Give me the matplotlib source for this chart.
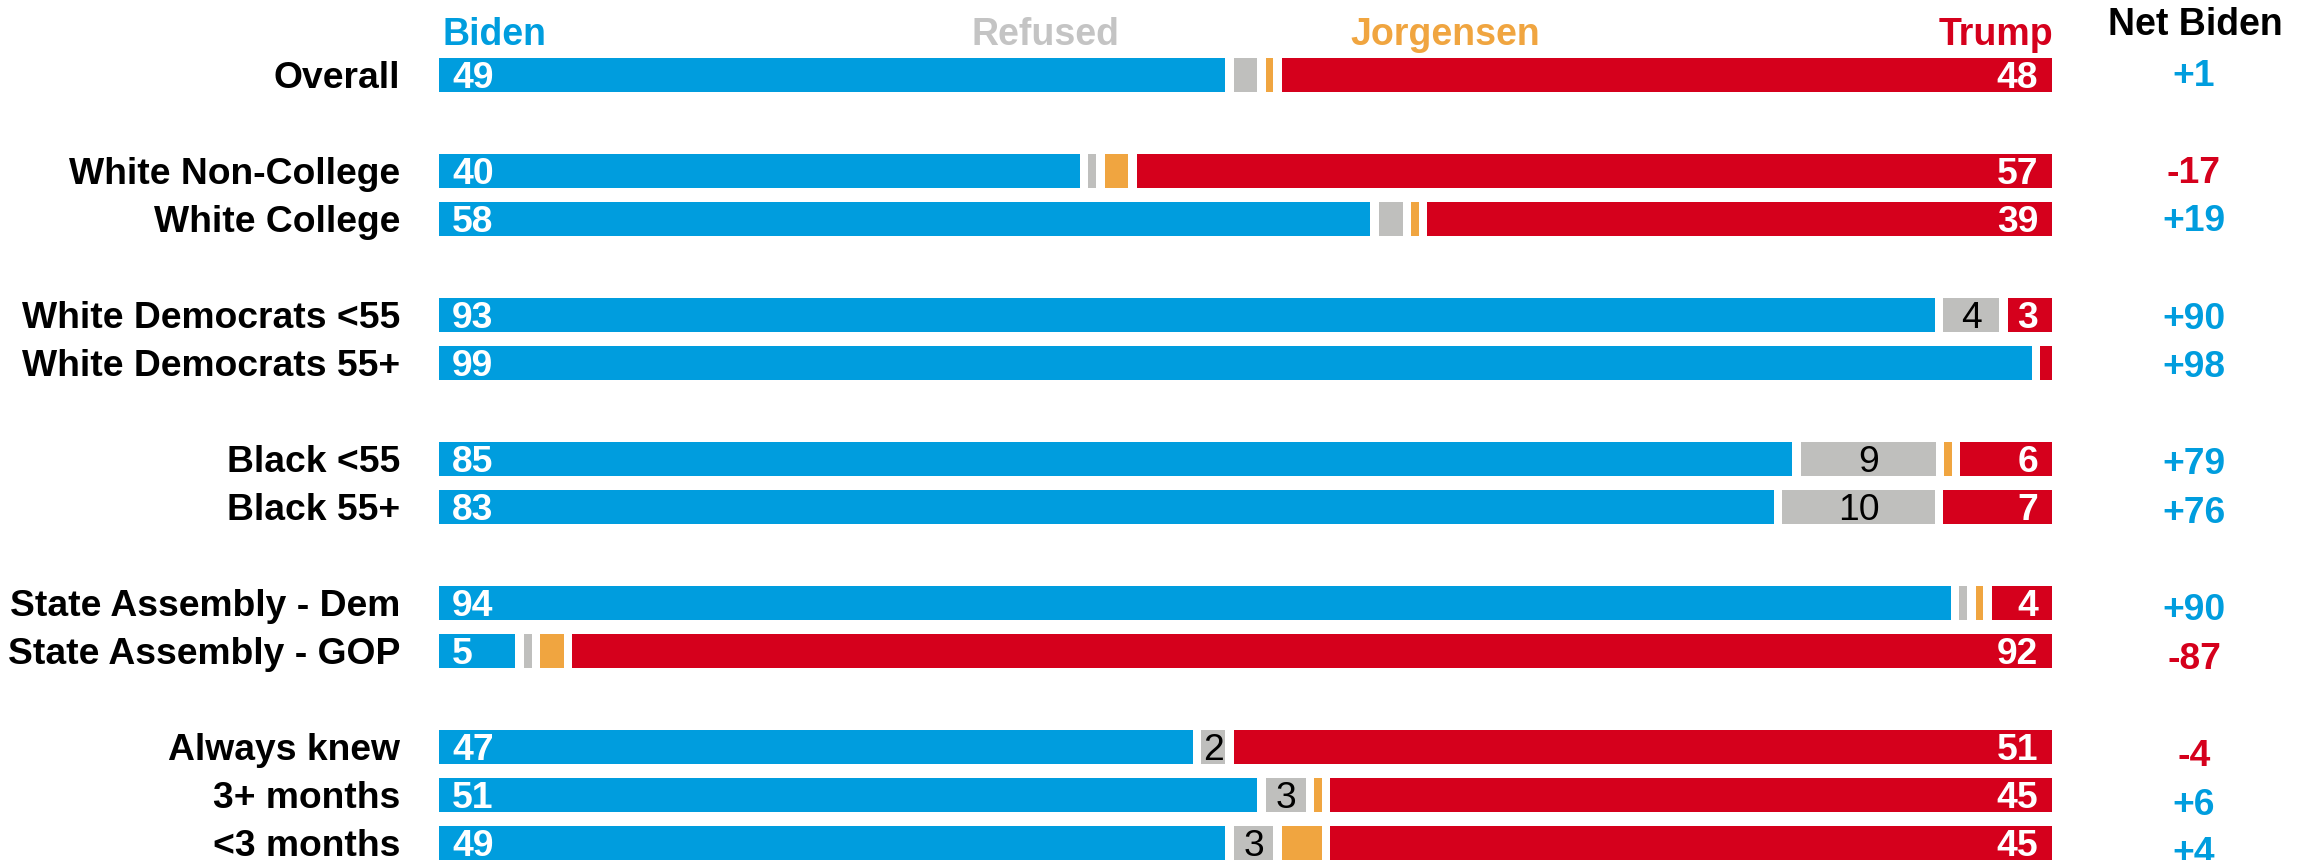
import matplotlib
matplotlib.use('Agg')
import matplotlib.pyplot as plt
import numpy as np

plt.rcParams['font.family'] = ['Liberation Sans', 'DejaVu Sans']

# survey rows (top to bottom), None = blank spacer row
groups = ['Overall', None,
          'White Non-College', 'White College', None,
          'White Democrats <55', 'White Democrats 55+', None,
          'Black <55', 'Black 55+', None,
          'State Assembly - Dem', 'State Assembly - GOP', None,
          'Always knew', '3+ months', '<3 months']

biden     = [49, 40, 58, 93, 99, 85, 83, 94, 5, 47, 51, 49]
refused   = [2, 1, 2, 4, 0, 9, 10, 1, 1, 2, 3, 3]
jorgensen = [1, 2, 1, 0, 0, 1, 0, 1, 2, 0, 1, 3]
trump     = [48, 57, 39, 3, 1, 6, 7, 4, 92, 51, 45, 45]
show_refused = [False, False, False, True, False, True, True, False, False, True, True, True]
show_trump   = [True, True, True, True, False, True, True, True, True, True, True, True]

colors = ['#009DDE', '#BFBFBD', '#F0A540', '#D5001C']
header_colors = ['#009DDE', '#C4C4C4', '#F0A540', '#D5001C']

fig = plt.figure(figsize=(23.1, 8.6), dpi=100)
ax = fig.add_axes([439/2310., 0, (2052-439)/2310., 1])
ax.set_xlim(0, 100)
ax.set_ylim(16.354, -1.5625)
ax.axis('off')

gap = 0.53
FS = 26.8
VA = 'center_baseline'
rows = [i for i, g in enumerate(groups) if g is not None]
for k, y in enumerate(rows):
    vals = np.array([biden[k], refused[k], jorgensen[k], trump[k]], dtype=float)
    vals = vals / vals.sum() * 100.
    edges = np.concatenate([[0], np.cumsum(vals)])
    nz = [j for j in range(4) if vals[j] > 0]
    for j in nz:
        x0 = edges[j] + (gap/2 if j != nz[0] else 0)
        x1 = edges[j+1] - (gap/2 if j != nz[-1] else 0)
        ax.barh(y, x1 - x0, left=x0, height=0.71, color=colors[j], linewidth=0)
    ty = y - 0.02
    ax.text(-2.42, ty, groups[y], ha='right', va=VA, fontsize=FS, fontweight='bold', color='black')
    ax.text(0.8, ty, str(biden[k]), ha='left', va=VA, fontsize=FS, fontweight='bold', color='white')
    if show_trump[k]:
        ax.text(99.15, ty, str(trump[k]), ha='right', va=VA, fontsize=FS, fontweight='bold', color='white')
    if show_refused[k]:
        ax.text((edges[1] + edges[2]) / 2., ty, str(refused[k]), ha='center', va=VA, fontsize=FS, color='black')
    # net column sits on a slightly looser row pitch
    net = biden[k] - trump[k]
    ny = y + (-3 + 0.6 * y) / 48.
    ax.text(108.8, ny, '%+d' % net, ha='center', va=VA, fontsize=FS, fontweight='bold',
            color=colors[0] if net > 0 else colors[3], clip_on=False)

ax.text(0.2, -0.625, 'Biden', ha='left', va='baseline', fontsize=27, fontweight='bold', color=header_colors[0])
ax.text(37.6, -0.625, 'Refused', ha='center', va='baseline', fontsize=27, fontweight='bold', color=header_colors[1])
ax.text(62.4, -0.625, 'Jorgensen', ha='center', va='baseline', fontsize=27, fontweight='bold', color=header_colors[2])
ax.text(100.1, -0.625, 'Trump', ha='right', va='baseline', fontsize=27, fontweight='bold', color=header_colors[3])
ax.text(108.9, -0.833, 'Net Biden', ha='center', va='baseline', fontsize=27, fontweight='bold', color='black', clip_on=False)

fig.savefig('out.png', dpi=100)
